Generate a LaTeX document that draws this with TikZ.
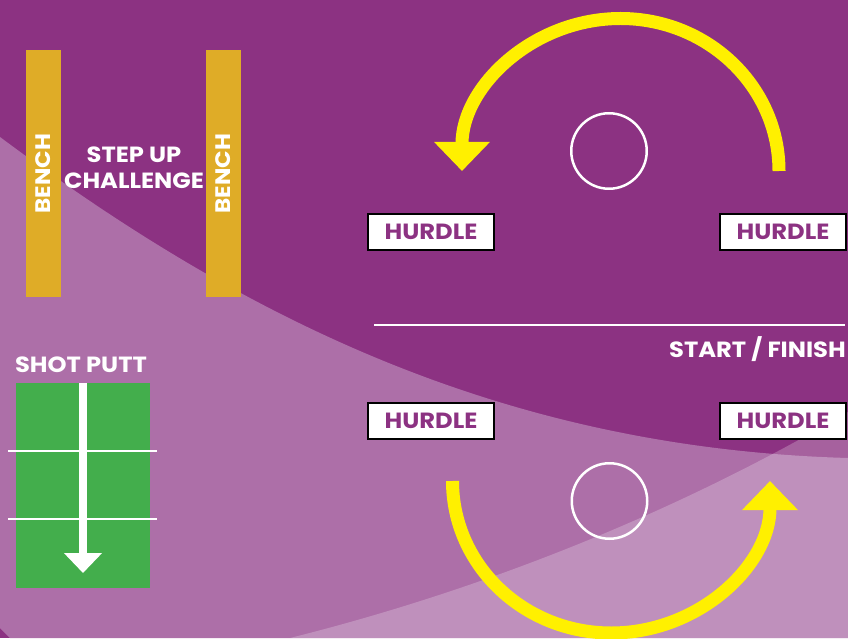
\documentclass[tikz,border=0pt]{standalone}
\usepackage{fontspec}
\setmainfont{Poppins}[FakeStretch=1.1]
\usetikzlibrary{arrows.meta,positioning}
\definecolor{plum}{HTML}{8C3282}
\definecolor{mauve}{HTML}{AD6FA8}
\definecolor{gold}{HTML}{DFAC27}
\definecolor{turf}{HTML}{43AE4C}
\definecolor{lapyellow}{HTML}{FFF000}

\begin{document}
\begin{tikzpicture}[
      x=1pt,y=1pt,
      bench/.style={fill=gold,rotate=90,minimum width=247pt,minimum height=35pt,inner sep=0pt,text=white,font=\fontsize{21}{21}\selectfont\bfseries},
      hurdle/.style={draw=black,line width=2pt,fill=white,minimum width=126pt,minimum height=36pt,inner sep=0pt,text=plum,font=\fontsize{22}{22}\selectfont\bfseries},
      ring/.style={circle,draw=white,line width=2.5pt,minimum size=75.5pt,inner sep=0pt},
      lap/.style={draw=lapyellow,line width=13pt,-{Triangle[length=29pt,width=54pt]}},
      lbl/.style={text=white,inner sep=0pt,font=\fontsize{22}{26}\selectfont\bfseries}]
    % field
    \useasboundingbox (0,0) rectangle (848,638);
    \fill[plum] (0,0) rectangle (848,638);
    \fill[mauve] (0,501) .. controls (240,322) and (500,190) .. (848,180)
      -- (848,0) -- (10,0) -- (0,10) -- cycle;
    \fill[white,opacity=0.23] (290,0) .. controls (450,40) and (650,110) .. (848,226)
      -- (848,0) -- cycle;

    % step up challenge
    \node[bench] (B1) at (43.5,464.5) {BENCH};
    \node[bench] (B2) at (223.5,464.5) {BENCH};
    \node[lbl,align=center] (step) at (134,470) {STEP UP\\CHALLENGE};

    % shot putt
    \node[lbl] (shot) at (81,273.5) {SHOT PUTT};
    \node[fill=turf,minimum width=134pt,minimum height=205pt,inner sep=0pt] (field) at (83,152.5) {};
    \foreach \y in {187,119} \draw[white,line width=2pt] (8,\y) -- (157,\y);
    \coordinate (throw) at (83,65);
    \draw[white,line width=8pt,-{Triangle[length=20pt,width=37pt]}] (field.north) -- (throw);

    % hurdles and laps
    \foreach \n/\x/\y in {H1/431/406,H2/783/406,H3/431/217.5,H4/783/217.5}
      \node[hurdle] (\n) at (\x,\y) {HURDLE};
    \node[ring] (R1) at (609,487) {};
    \node[ring] (R2) at (609.5,137) {};
    \coordinate (lap1) at (779,467);
    \coordinate (lap2) at (452.5,157);
    \draw[lap] (lap1) arc[start angle=0,end angle=180,x radius=158.5,y radius=152.5];
    \draw[lap] (lap2) arc[start angle=180,end angle=360,x radius=158.75,y radius=152];

    % start line
    \coordinate (S1) at (374,313);
    \coordinate (S2) at (845,313);
    \draw[white,line width=2.5pt] (S1) -- (S2);
    \node[lbl,anchor=east] (start) at (846,288.5) {START / FINISH};
  \end{tikzpicture}
\end{document}
